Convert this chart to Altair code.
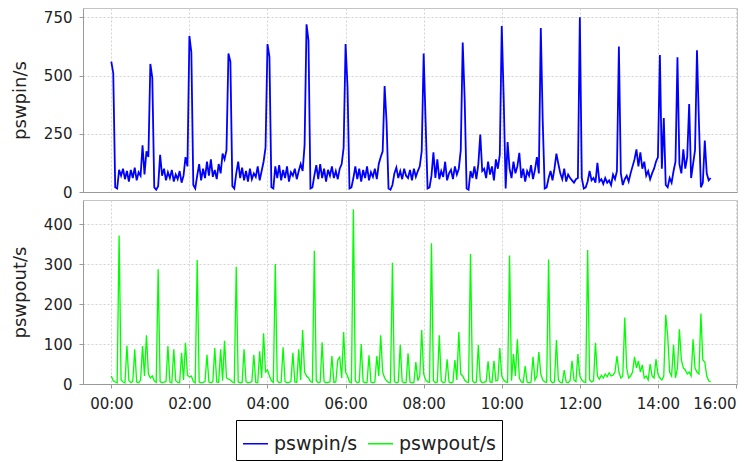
import altair as alt
import pandas as pd

# sampling grid (minutes after 00:00, every 3 minutes)
minutes = list(range(0, 922, 3))

series_names = ["pswpin/s", "pswpout/s"]
series_colors = ["#0000ff", "#00ff00"]

# pswpin/s, one row per hour (20 samples each)
pswpin = (
    [560, 510, 20, 15, 95, 70, 100, 55, 90, 45, 95, 60, 105, 50, 85, 70, 200, 75, 175, 150]
    + [550, 490, 20, 10, 25, 160, 70, 100, 50, 85, 60, 95, 45, 75, 55, 90, 40, 70, 150, 110]
    + [670, 600, 30, 15, 70, 120, 50, 100, 60, 130, 70, 140, 65, 95, 55, 120, 80, 165, 140, 180]
    + [595, 560, 25, 15, 80, 130, 60, 105, 50, 90, 45, 100, 55, 80, 65, 110, 50, 90, 130, 190]
    + [635, 580, 20, 15, 110, 60, 115, 50, 95, 60, 110, 45, 85, 70, 100, 55, 90, 120, 90, 200]
    + [720, 650, 15, 20, 70, 115, 55, 120, 60, 100, 45, 95, 70, 110, 60, 90, 55, 100, 120, 190]
    + [635, 450, 15, 20, 60, 110, 55, 100, 45, 95, 60, 110, 50, 85, 65, 100, 55, 120, 150, 175]
    + [455, 300, 15, 10, 30, 80, 105, 60, 90, 55, 100, 70, 60, 95, 50, 100, 65, 90, 110, 175]
    + [595, 300, 15, 20, 70, 170, 60, 140, 55, 90, 65, 130, 50, 80, 95, 55, 110, 75, 100, 180]
    + [642, 400, 15, 10, 90, 60, 110, 55, 120, 247, 90, 100, 60, 130, 75, 110, 50, 140, 100, 160]
    + [713, 400, 15, 214, 100, 60, 130, 80, 110, 168, 60, 100, 45, 90, 70, 115, 55, 95, 150, 80]
    + [704, 300, 15, 20, 60, 90, 50, 100, 165, 120, 80, 55, 100, 45, 75, 60, 50, 40, 55, 60]
    + [750, 60, 15, 20, 45, 90, 50, 60, 40, 125, 45, 55, 35, 60, 40, 50, 30, 75, 55, 90]
    + [625, 80, 30, 55, 70, 45, 80, 110, 140, 183, 110, 170, 100, 130, 70, 90, 55, 80, 100, 130]
    + [150, 588, 100, 318, 30, 20, 60, 40, 90, 130, 578, 120, 80, 183, 100, 150, 378, 60, 120, 180]
    + [609, 300, 20, 40, 221, 80, 50, 60]
)

# pswpout/s, one row per hour (20 samples each)
pswpout = (
    [20, 8, 5, 3, 371, 10, 5, 3, 96, 8, 4, 6, 87, 5, 3, 10, 95, 20, 122, 25]
    + [15, 20, 8, 4, 287, 6, 3, 5, 6, 95, 5, 3, 87, 8, 4, 3, 78, 10, 103, 22]
    + [18, 20, 6, 3, 310, 5, 3, 4, 6, 73, 5, 3, 6, 90, 5, 4, 87, 8, 108, 15]
    + [12, 10, 5, 3, 293, 5, 3, 4, 87, 6, 3, 4, 6, 73, 4, 3, 82, 15, 127, 30]
    + [35, 20, 8, 4, 300, 8, 3, 5, 92, 6, 3, 4, 6, 78, 5, 4, 87, 10, 135, 30]
    + [20, 15, 6, 4, 333, 8, 3, 5, 104, 6, 3, 4, 5, 70, 4, 5, 60, 67, 15, 130]
    + [30, 20, 5, 3, 437, 8, 3, 5, 100, 6, 3, 4, 72, 5, 3, 5, 70, 20, 122, 30]
    + [15, 8, 4, 3, 303, 6, 3, 5, 98, 6, 3, 4, 77, 5, 3, 4, 55, 8, 20, 135]
    + [25, 10, 5, 4, 352, 8, 3, 5, 122, 8, 3, 5, 62, 5, 3, 5, 60, 10, 130, 25]
    + [20, 10, 5, 4, 325, 8, 3, 5, 98, 8, 3, 5, 6, 57, 5, 4, 58, 8, 10, 90]
    + [20, 10, 5, 4, 321, 8, 75, 20, 112, 15, 5, 4, 45, 5, 3, 5, 68, 10, 20, 80]
    + [25, 10, 5, 4, 311, 8, 3, 5, 110, 10, 4, 3, 35, 5, 3, 8, 58, 10, 6, 75]
    + [20, 10, 5, 4, 335, 10, 5, 8, 103, 20, 12, 22, 15, 25, 18, 28, 20, 22, 30, 70]
    + [30, 15, 20, 166, 40, 15, 20, 30, 68, 40, 58, 30, 48, 15, 20, 10, 50, 20, 15, 62]
    + [25, 15, 10, 20, 173, 120, 30, 20, 98, 15, 40, 137, 60, 40, 35, 25, 30, 20, 112, 40]
    + [30, 25, 176, 60, 55, 20, 8, 5]
)

x_tick_values = [0, 120, 240, 360, 480, 600, 720, 840, 960]
x_tick_labels = ["00:00", "02:00", "04:00", "06:00", "08:00", "10:00", "12:00", "14:00", "16:00"]
top_y_ticks = [0, 250, 500, 750]
bottom_y_ticks = [0, 100, 200, 300, 400]

n = len(minutes)
df = pd.DataFrame({
    "minute": minutes + minutes,
    "value": pswpin + pswpout,
    "series": [series_names[0]] * n + [series_names[1]] * n,
})

label_expr = "[" + ",".join("'%s'" % s for s in x_tick_labels) + "][round(datum.value / 120)]"
x_domain = [-43.5, 961.5]

color = alt.Color(
    "series:N",
    scale=alt.Scale(domain=series_names, range=series_colors),
    legend=alt.Legend(
        title=" ", titleFontSize=3, titlePadding=1,
        orient="none", legendX=153, legendY=412,
        direction="horizontal", symbolType="stroke", symbolSize=625,
        symbolStrokeWidth=1.5, labelFontSize=19, labelFont="DejaVu Sans",
        labelColor="#222", labelOffset=5, columnPadding=7, padding=6,
        strokeColor="black", fillColor="white", cornerRadius=0,
    ),
)

top = alt.Chart(df).transform_filter(
    alt.datum.series == series_names[0]
).mark_line(strokeWidth=1.8, clip=True).encode(
    x=alt.X("minute:Q", scale=alt.Scale(domain=x_domain, nice=False, zero=False),
            axis=alt.Axis(values=x_tick_values, labels=False, ticks=False, title=None)),
    y=alt.Y("value:Q", scale=alt.Scale(domain=[0, 790], nice=False),
            axis=alt.Axis(values=top_y_ticks, title=series_names[0])),
    color=color,
).properties(width=654, height=184)

bottom = alt.Chart(df).transform_filter(
    alt.datum.series == series_names[1]
).mark_line(strokeWidth=1.3, clip=True).encode(
    x=alt.X("minute:Q", scale=alt.Scale(domain=x_domain, nice=False, zero=False),
            axis=alt.Axis(values=x_tick_values, labelExpr=label_expr, title=None,
                          labelPadding=8)),
    y=alt.Y("value:Q", scale=alt.Scale(domain=[0, 460], nice=False),
            axis=alt.Axis(values=bottom_y_ticks, title=series_names[1])),
    color=color,
).properties(width=654, height=184)

chart = alt.vconcat(top, bottom, spacing=8, bounds="flush").properties(
    padding={"left": 10, "top": 7, "right": 0, "bottom": 0}
).configure_view(
    stroke="#c4c4c4"
).configure_axis(
    labelFont="DejaVu Sans", labelFontSize=15, labelColor="#222",
    titleFont="DejaVu Sans", titleFontSize=18, titleFontWeight="normal", titleColor="#222",
    domainColor="#999", tickColor="#999", tickSize=4,
    gridColor="#d2d2d2", gridDash=[2, 2],
).configure_axisY(
    labelPadding=7, titlePadding=14
)

chart.save("out.html", embed_options={"renderer": "svg", "actions": False})
